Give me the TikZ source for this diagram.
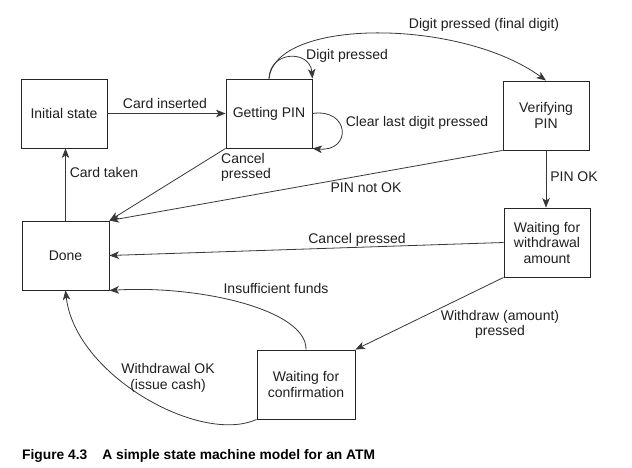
\documentclass[tikz,border=0pt]{standalone}
\usepackage{fontspec}
\setmainfont{Liberation Sans}
\usetikzlibrary{arrows.meta}
\begin{document}
\begin{tikzpicture}[x=1pt,y=-1pt,
  state/.style={draw=black!85, line width=0.9pt, minimum height=69pt, inner sep=0pt, align=center, text=black!88, font=\fontsize{14}{15.5}\selectfont},
  lbl/.style={font=\fontsize{14}{15.5}\selectfont, text=black!88, inner sep=0pt, anchor=base},
  mlbl/.style={font=\fontsize{14}{15.5}\selectfont, text=black!88, inner sep=0pt, align=center},
  tr/.style={draw=black!78, line width=0.8pt, -{Stealth[length=9.5pt,width=7.5pt,inset=2.5pt]}},
]
\useasboundingbox (0,0) rectangle (632,468);
\fill[white] (0,0) rectangle (632,468);

\node[state, minimum width=86pt] (init) at (64,113.5) {Initial state};
\node[state, minimum width=86pt] (pin) at (269,113.5) {Getting PIN};
\node[state, minimum width=86pt] (ver) at (546,115.5) {Verifying\\PIN};
\node[state, minimum width=87pt] (done) at (65.5,255.5) {Done};
\node[state, minimum width=86pt] (wwa) at (547,242.5) {Waiting for\\withdrawal\\amount};
\node[state, minimum width=98pt] (conf) at (306,384.5) {Waiting for\\confirmation};

\draw[tr] (init) -- (pin);
\node[lbl] (lci) at (165,109) {Card inserted};

\draw[tr] (done.north) -- (done.north |- init.south);
\node[lbl] (lct) at (104,177.5) {Card taken};

\draw[tr] (pin.south west) -- (done.north east);
\node[mlbl, align=left, anchor=west] (lcp) at (221,167.5) {Cancel\\pressed};

\draw[tr] (ver.south west) -- (done.north east);
\node[lbl] (lpn) at (366,193) {PIN not OK};

\draw[tr] (pin.north) .. controls (270,50) and (310,50) .. (pin.north east);
\node[lbl] (ldp) at (347,60) {Digit pressed};

\draw[tr] (pin.north) .. controls (275,18) and (460,18) .. (ver.north);
\node[lbl] (lfd) at (484,29) {Digit pressed (final digit)};

\draw[tr] (pin.east) .. controls (350,108) and (352,152) .. (pin.south east);
\node[lbl] (lcl) at (417,127) {Clear last digit pressed};

\draw[tr] (ver.south) -- (ver.south |- wwa.north);
\node[lbl] (lok) at (574,181.5) {PIN OK};

\draw[tr] (wwa.west) -- (done.east);
\node[lbl] (lcw) at (357,243) {Cancel pressed};

\draw[tr] (wwa.south west) -- (conf.north east);
\node[mlbl] (lwd) at (500,324.4) {Withdraw (amount)\\pressed};

\draw[tr] (conf.north) .. controls (307,310) and (200,285) .. (done.south east);
\node[lbl] (lif) at (276,293) {Insufficient funds};

\draw[tr] (conf.south west) .. controls (200,445) and (75,375) .. (done.south);
\node[mlbl] (lwo) at (168,378) {Withdrawal OK\\(issue cash)};

\node[anchor=base west, inner sep=0pt, font=\fontsize{13.8}{16}\selectfont\bfseries] (cap) at (22,459) {Figure 4.3\hspace{15pt}A simple state machine model for an ATM};
\end{tikzpicture}
\end{document}
